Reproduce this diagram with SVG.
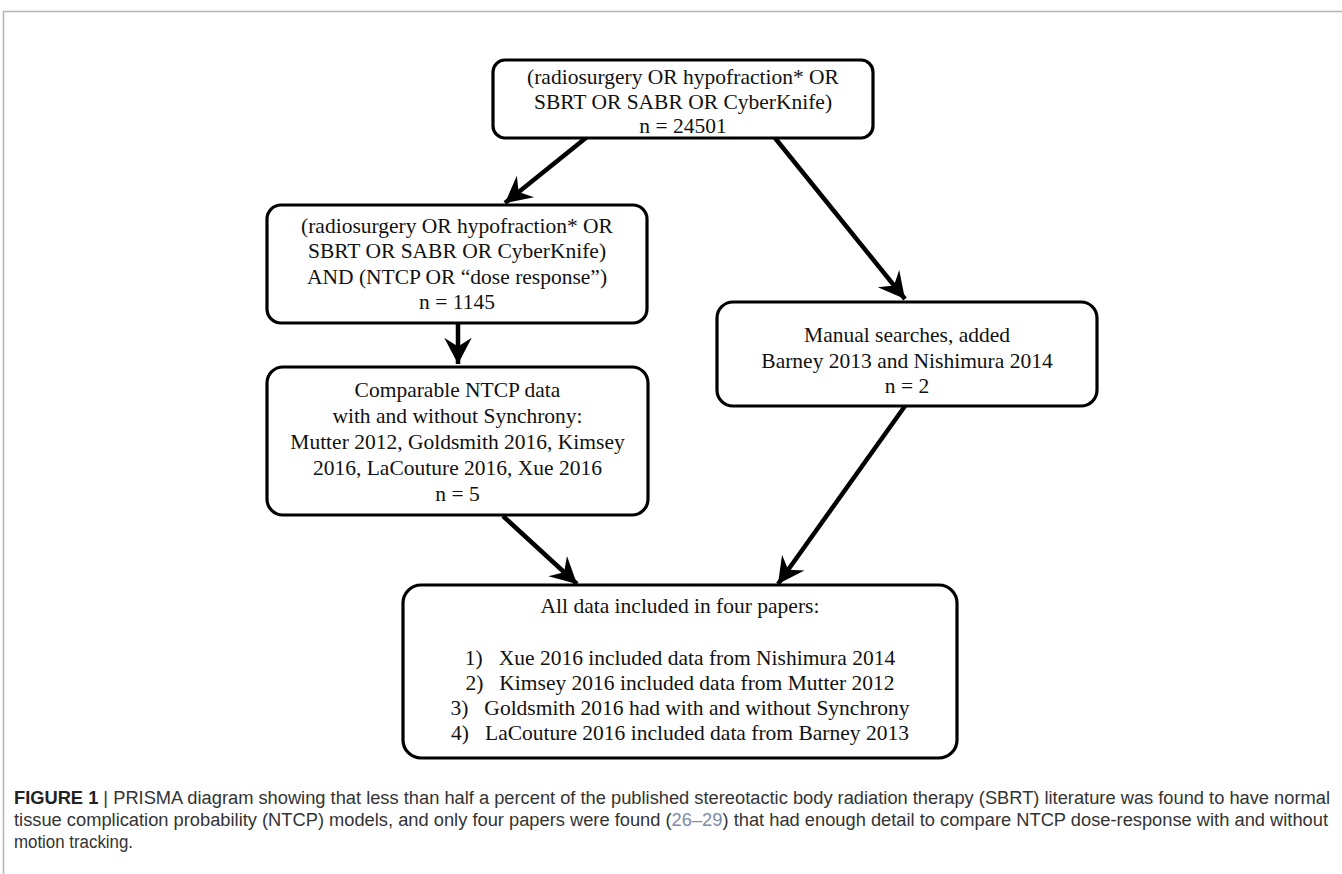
<svg xmlns="http://www.w3.org/2000/svg" width="1342" height="874" viewBox="0 0 1342 874">
<defs>
<style>
.box{fill:#fff;stroke:#000;stroke-width:3.2}
.t{font-family:"Liberation Serif","Times New Roman",serif;font-size:21.5px;fill:#111;text-anchor:middle}
.c{stroke:#000;stroke-width:4.5;fill:none;marker-end:url(#ah)}
.cap{font-family:"Liberation Sans",Arial,sans-serif;font-size:18px;fill:#333}
.frame{stroke:#b4b4b4;stroke-width:1.5;fill:none}
</style>
<marker id="ah" markerUnits="userSpaceOnUse" markerWidth="30" markerHeight="30" viewBox="-22 -12 24 24" refX="0" refY="0" orient="auto">
<path d="M0,0 L-21,-11 L-14,0 L-21,11 Z" fill="#000"/>
</marker>
</defs>
<rect width="1342" height="874" fill="#fff"/>
<path class="frame" d="M1342,11.5 H3.5 V874"/>

<g id="connectors">
<line class="c" x1="587" y1="137" x2="505" y2="203"/>
<line class="c" x1="775" y1="138" x2="905" y2="299"/>
<line class="c" x1="458" y1="324" x2="458" y2="364"/>
<line class="c" x1="503" y1="516" x2="577" y2="584"/>
<line class="c" x1="905" y1="406" x2="778" y2="584"/>
</g>

<g id="n1">
<rect class="box" x="493" y="60" width="380" height="78" rx="12"/>
<text class="t" x="683" y="84">(radiosurgery OR hypofraction* OR</text>
<text class="t" x="683" y="109">SBRT OR SABR OR CyberKnife)</text>
<text class="t" x="683" y="133">n = 24501</text>
</g>

<g id="n2">
<rect class="box" x="267" y="205" width="380" height="118" rx="14"/>
<text class="t" x="457" y="233">(radiosurgery OR hypofraction* OR</text>
<text class="t" x="457" y="258">SBRT OR SABR OR CyberKnife)</text>
<text class="t" x="457" y="284">AND (NTCP OR “dose response”)</text>
<text class="t" x="457" y="309">n = 1145</text>
</g>

<g id="n3">
<rect class="box" x="267" y="367" width="381" height="148" rx="16"/>
<text class="t" x="457.5" y="397">Comparable NTCP data</text>
<text class="t" x="457.5" y="423">with and without Synchrony:</text>
<text class="t" x="457.5" y="449">Mutter 2012, Goldsmith 2016, Kimsey</text>
<text class="t" x="457.5" y="475">2016, LaCouture 2016, Xue 2016</text>
<text class="t" x="457.5" y="501">n = 5</text>
</g>

<g id="n4">
<rect class="box" x="717" y="302" width="380" height="104" rx="16"/>
<text class="t" x="907" y="342">Manual searches, added</text>
<text class="t" x="907" y="368">Barney 2013 and Nishimura 2014</text>
<text class="t" x="907" y="393">n = 2</text>
</g>

<g id="n5">
<rect class="box" x="403" y="585" width="554" height="173" rx="18"/>
<text class="t" x="680" y="613">All data included in four papers:</text>
<text class="t" x="680" y="665">1)<tspan dx="16">Xue 2016 included data from Nishimura 2014</tspan></text>
<text class="t" x="680" y="690">2)<tspan dx="16">Kimsey 2016 included data from Mutter 2012</tspan></text>
<text class="t" x="680" y="715">3)<tspan dx="16">Goldsmith 2016 had with and without Synchrony</tspan></text>
<text class="t" x="680" y="740">4)<tspan dx="16">LaCouture 2016 included data from Barney 2013</tspan></text>
</g>

<g id="caption">
<text class="cap" x="14" y="804" textLength="1316" lengthAdjust="spacingAndGlyphs"><tspan font-weight="bold" fill="#222">FIGURE 1</tspan> | PRISMA diagram showing that less than half a percent of the published stereotactic body radiation therapy (SBRT) literature was found to have normal</text>
<text class="cap" x="14" y="826" textLength="1314" lengthAdjust="spacingAndGlyphs">tissue complication probability (NTCP) models, and only four papers were found (<tspan fill="#7d8aa6">26–29</tspan>) that had enough detail to compare NTCP dose-response with and without</text>
<text class="cap" x="14" y="848" textLength="119" lengthAdjust="spacingAndGlyphs">motion tracking.</text>
</g>
</svg>
